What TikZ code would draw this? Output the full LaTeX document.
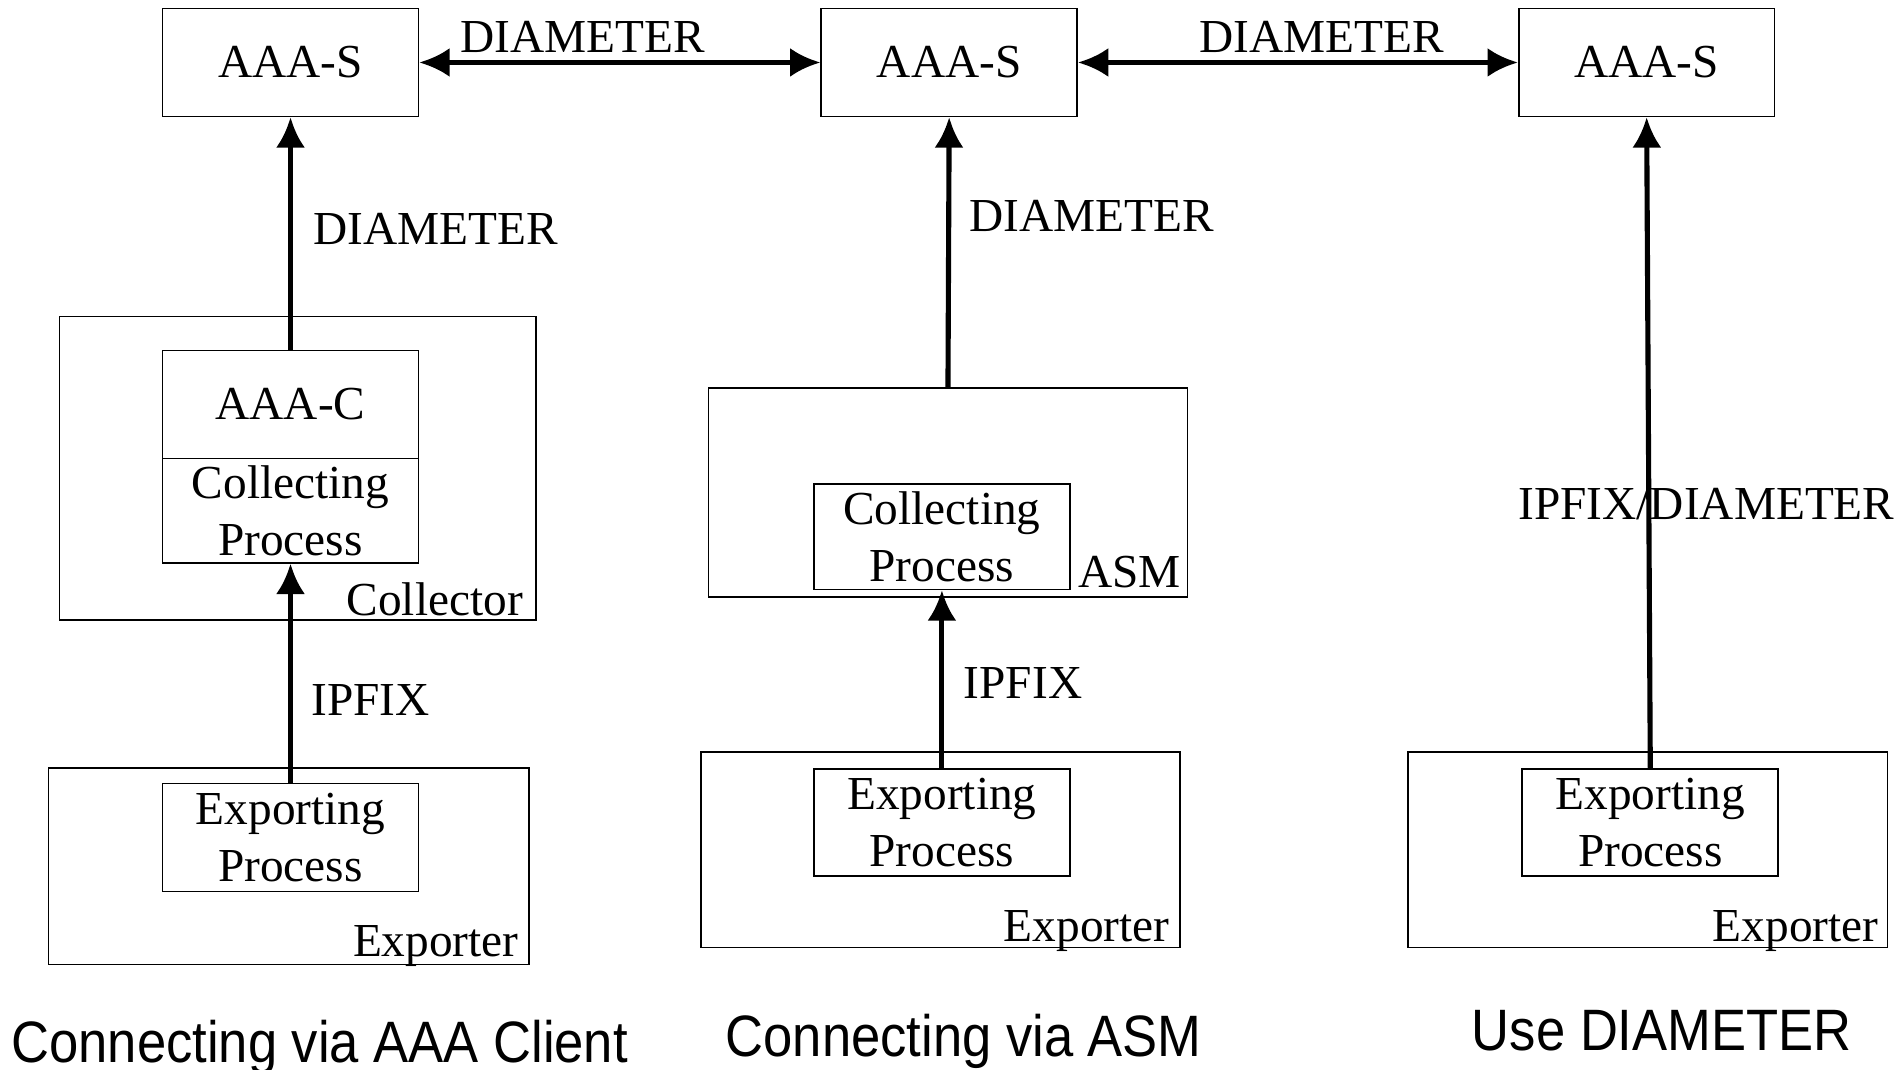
\documentclass[tikz,border=0pt]{standalone}
\usepackage{fontspec}
\setmainfont{Liberation Serif}
\newfontfamily\capfont[FakeStretch=0.9]{Liberation Sans}
\usetikzlibrary{arrows.meta}

\tikzset{
  procbox/.style={draw, thin, minimum width=21.1mm, minimum height=8.9mm, inner sep=0pt, align=center, font=\fontsize{11.1}{13.3}\selectfont},
  hostbox/.style={draw, thin, inner sep=0pt},
  proto/.style={black, line width=1.2pt},
  lbl/.style={inner sep=0pt, font=\fontsize{11.1}{13.3}\selectfont},
  caption/.style={inner sep=0pt, anchor=base, font=\capfont\fontsize{13.7}{15}\selectfont}
}

\begin{document}
\begin{tikzpicture}[x=0.1mm, y=-0.1mm, >={Latex[length=2.5mm,width=2.4mm]}]
        \useasboundingbox (0,0) rectangle (1568,882);

        %%-servers
        \node[procbox] (srvA) at (239.5,51.5) {AAA-S};
        \node[procbox] (srvB) at (782.5,51.5) {AAA-S};
        \node[procbox] (srvC) at (1357.5,51.5) {AAA-S};

        \draw [proto] [<->] (srvA.east) -- (srvB.west) node[lbl, anchor=south, pos=.408, yshift=0.6mm] {DIAMETER};
        \draw [proto] [<->] (srvB.east) -- (srvC.west) node[lbl, anchor=south, pos=.554, yshift=0.6mm] {DIAMETER};

        %%-via AAA client
        \node[hostbox, minimum width=39.3mm, minimum height=25mm] (collector) at (245.5,386) {};
        \node[procbox] (aaac) at (239.5,333.5) {AAA-C};
        \node[procbox, minimum height=8.6mm] (collA) at (239.5,421) {Collecting\\Process};
        \node[lbl, anchor=base east] (collectorlbl) at ([xshift=-1.1mm, yshift=0.4mm]collector.south east) {Collector};

        \node[hostbox, minimum width=39.6mm, minimum height=16.2mm] (exporterA) at (238,714) {};
        \node[procbox] (expA) at (239.5,690.5) {Exporting\\Process};
        \node[lbl, anchor=base east] (exporterAlbl) at ([xshift=-0.85mm, yshift=0.75mm]exporterA.south east) {Exporter};

        \draw [proto] [->] (aaac.north) -- (srvA.south) node[lbl, anchor=west, pos=.518, xshift=1.7mm] {DIAMETER};
        \draw [proto] [->] (expA.north) -- (collA.south) node[lbl, anchor=west, pos=.379, xshift=1.5mm] {IPFIX};

        \node[caption] (capA) at (263.5,876) {Connecting via AAA Client};

        %%-via ASM
        \node[hostbox, minimum width=39.5mm, minimum height=17.2mm] (asm) at (781.5,406) {};
        \node[procbox, minimum height=8.7mm] (collB) at (776.5,442.5) {Collecting\\Process};
        \node[lbl, anchor=base east] (asmlbl) at ([xshift=-0.55mm, yshift=0.8mm]asm.south east) {ASM};

        \node[hostbox, minimum width=39.5mm, minimum height=16.1mm] (exporterB) at (775.5,700.5) {};
        \node[procbox, minimum height=8.8mm] (expB) at (776.5,678) {Exporting\\Process};
        \node[lbl, anchor=base east] (exporterBlbl) at ([xshift=-0.9mm, yshift=0.55mm]exporterB.south east) {Exporter};

        \draw [proto] [->] (asm.north) -- (srvB.south) node[lbl, anchor=west, pos=.634, xshift=1.5mm] {DIAMETER};
        \draw [proto] [->] (expB.north) -- (collB.south) node[lbl, anchor=west, pos=.48, xshift=1.6mm] {IPFIX};

        \node[caption] (capB) at (794.5,871) {Connecting via ASM};

        %%-use DIAMETER
        \node[hostbox, minimum width=39.5mm, minimum height=16.1mm] (exporterC) at (1358.5,700.5) {};
        \node[procbox, minimum height=8.8mm] (expC) at (1360.5,678) {Exporting\\Process};
        \node[lbl, anchor=base east] (exporterClbl) at ([xshift=-0.75mm, yshift=0.55mm]exporterC.south east) {Exporter};

        \draw [proto] [->] (expC.north) -- (srvC.south) node[lbl, pos=.405, xshift=4.75mm] {IPFIX/DIAMETER};

        \node[caption] (capC) at (1370,866) {Use DIAMETER};
\end{tikzpicture}
\end{document}
